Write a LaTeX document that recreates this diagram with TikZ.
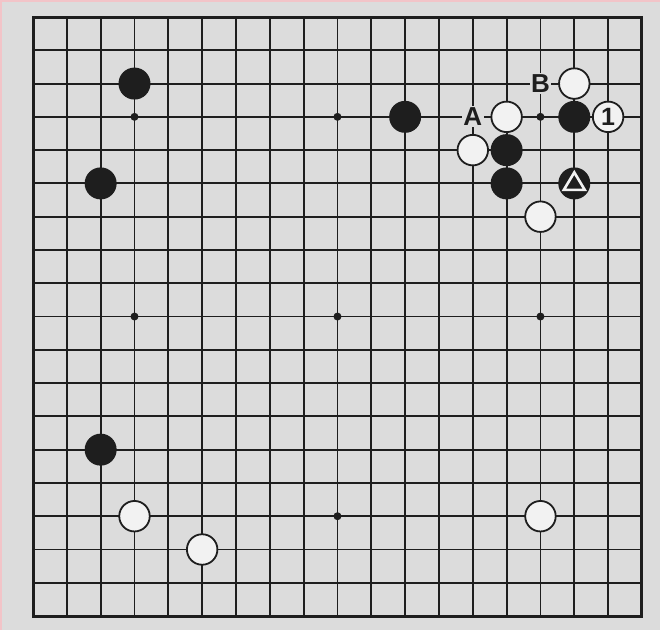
\documentclass[tikz,border=0pt]{standalone}
\usepackage{fontspec}
\setmainfont{Liberation Sans}
\definecolor{bg}{HTML}{DCDCDC}
\definecolor{ink}{HTML}{1E1E1E}
\definecolor{wst}{HTML}{F2F2F2}
\definecolor{frame}{HTML}{F2C4C8}
\newcommand\gox{33}
\newcommand\goy{17}
\newcommand\gdx{33.83}
\newcommand\gdy{33.28}
\newcommand\putstone[4]{\node[#1] (#2) at ({\gox+#3*\gdx},{\goy+#4*\gdy}) {};}
\begin{document}
\begin{tikzpicture}[x=1pt,y=-1pt,
  gridline/.style={ink,line width=1.9},
  border/.style={ink,line width=3},
  bstone/.style={circle,fill=ink,inner sep=0,minimum size=32},
  wstone/.style={circle,fill=wst,draw=ink,line width=1.8,inner sep=0,minimum size=30.5},
  hoshi/.style={circle,fill=ink,inner sep=0,minimum size=8},
  lbl/.style={fill=bg,inner sep=1.5pt,font=\bfseries\fontsize{26}{26}\selectfont,text=ink},
  numst/.style={wstone,font=\bfseries\fontsize{25}{25}\selectfont,text=ink}]
\useasboundingbox (0,0) rectangle (660,630);
\fill[bg] (0,0) rectangle (660,630);
\fill[frame] (0,0) rectangle (660,2);
\fill[frame] (0,0) rectangle (1.5,630);
% grid
\foreach \i in {1,...,17}{
  \draw[gridline] ({\gox+\i*\gdx},\goy) -- ({\gox+\i*\gdx},{\goy+18*\gdy});
  \draw[gridline] (\gox,{\goy+\i*\gdy}) -- ({\gox+18*\gdx},{\goy+\i*\gdy});
}
\draw[border] (\gox,\goy) rectangle ({\gox+18*\gdx},{\goy+18*\gdy});
% hoshi
\foreach \c/\r [count=\k] in {3/3,9/3,15/3,3/9,9/9,15/9,3/15,9/15,15/15}{
  \putstone{hoshi}{h\k}{\c}{\r}
}
% black stones
\putstone{bstone}{b1}{3}{2}
\putstone{bstone}{b2}{2}{5}
\putstone{bstone}{b3}{11}{3}
\putstone{bstone}{b4}{2}{13}
\putstone{bstone}{b5}{14}{4}
\putstone{bstone}{b6}{14}{5}
\putstone{bstone}{b7}{16}{3}
\putstone{bstone}{bt}{16}{5}
% white stones
\putstone{wstone}{w1}{16}{2}
\putstone{wstone}{w2}{14}{3}
\putstone{wstone}{w3}{13}{4}
\putstone{wstone}{w4}{15}{6}
\putstone{wstone}{w5}{3}{15}
\putstone{wstone}{w6}{5}{16}
\putstone{wstone}{w7}{15}{15}
\node[numst] (w1m) at ({\gox+17*\gdx},{\goy+3*\gdy}) {1};
% triangle mark
\draw[wst,line width=2.6,line join=miter]
  ([shift={(0,-11)}]bt.center) -- ([shift={(10.5,6.5)}]bt.center)
  -- ([shift={(-10.5,6.5)}]bt.center) -- cycle;
% labels
\node[lbl] (la) at ({\gox+13*\gdx},{\goy+3*\gdy}) {A};
\node[lbl] (lb) at ({\gox+15*\gdx},{\goy+2*\gdy}) {B};
\end{tikzpicture}
\end{document}
